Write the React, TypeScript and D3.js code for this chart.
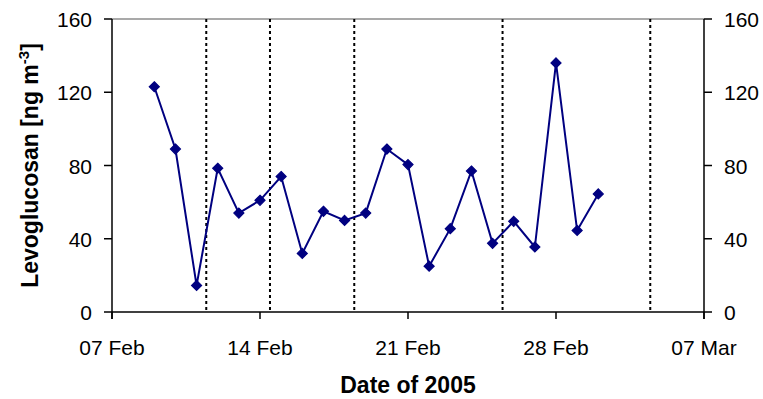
import React from 'react';
import * as d3 from 'd3';

// sampling days (daily) and levoglucosan values
const sampleDates = [
  '2005-02-09', '2005-02-10', '2005-02-11', '2005-02-12', '2005-02-13', '2005-02-14',
  '2005-02-15', '2005-02-16', '2005-02-17', '2005-02-18', '2005-02-19', '2005-02-20',
  '2005-02-21', '2005-02-22', '2005-02-23', '2005-02-24', '2005-02-25', '2005-02-26',
  '2005-02-27', '2005-02-28', '2005-03-01', '2005-03-02',
];
const levoglucosan = [
  123, 89, 14.5, 78.5, 54, 61, 74, 32, 55, 50, 54, 89,
  80.5, 25, 45.5, 77, 37.5, 49.5, 35.5, 136, 44.5, 64.5,
];
// dotted separators
const markerLines = [
  '2005-02-11T11:00:00Z', '2005-02-14T11:20:00Z', '2005-02-18T11:00:00Z',
  '2005-02-25T11:20:00Z', '2005-03-04T11:00:00Z',
];
const xTicks = ['2005-02-07', '2005-02-14', '2005-02-21', '2005-02-28', '2005-03-07'];
const yTicks = [0, 40, 80, 120, 160];

const W = 763;
const H = 399;
const margin = { top: 19, right: 59, bottom: 87, left: 112 };

const parseDay = (s: string) => new Date(s.length > 10 ? s : s + 'T00:00:00Z');
const fmt = d3.utcFormat('%d %b');

export default function App() {
  const x = d3.scaleUtc()
    .domain([parseDay('2005-02-07'), parseDay('2005-03-07')])
    .range([margin.left, W - margin.right]);
  const y = d3.scaleLinear().domain([0, 160]).range([H - margin.bottom, margin.top]);

  const pts = sampleDates.map((d, i) => ({ date: parseDay(d), value: levoglucosan[i] }));
  const line = d3.line<{ date: Date; value: number }>()
    .x(d => x(d.date))
    .y(d => y(d.value));

  const x0 = margin.left;
  const x1 = W - margin.right;
  const y0 = y(0);
  const y1 = y(160);
  const font = 'Liberation Sans, Arial, sans-serif';
  const diamond = d3.symbol(d3.symbolDiamond2, 64)() || '';

  return (
    <svg width={W} height={H} style={{ position: 'absolute', left: 0, top: 0, background: '#fff' }}
      fontFamily={font}>
      {/* top frame line */}
      <line x1={x0} x2={x1} y1={y1} y2={y1} stroke="#8c8c8c" strokeWidth={1.5} />

      {markerLines.map(s => (
        <line key={s} x1={x(parseDay(s))} x2={x(parseDay(s))} y1={y1} y2={y0}
          stroke="#000" strokeWidth={2} strokeDasharray="3,3" />
      ))}

      {/* left axis */}
      <line x1={x0} x2={x0} y1={y1} y2={y0 + 7} stroke="#000" strokeWidth={1.5} />
      {yTicks.map(t => (
        <g key={'l' + t}>
          <line x1={x0 - 8} x2={x0} y1={y(t)} y2={y(t)} stroke="#000" strokeWidth={1.5} />
          <text x={x0 - 20} y={y(t) + 8} textAnchor="end" fontSize={21}>{t}</text>
        </g>
      ))}

      {/* right axis */}
      <line x1={x1} x2={x1} y1={y1} y2={y0 + 7} stroke="#000" strokeWidth={1.5} />
      {yTicks.map(t => (
        <g key={'r' + t}>
          <line x1={x1} x2={x1 + 8} y1={y(t)} y2={y(t)} stroke="#000" strokeWidth={1.5} />
          <text x={x1 + 20} y={y(t) + 8} textAnchor="start" fontSize={21}>{t}</text>
        </g>
      ))}

      {/* bottom axis */}
      <line x1={x0} x2={x1} y1={y0} y2={y0} stroke="#000" strokeWidth={1.5} />
      {xTicks.map(s => (
        <g key={s}>
          <line x1={x(parseDay(s))} x2={x(parseDay(s))} y1={y0} y2={y0 + 7} stroke="#000" strokeWidth={1.5} />
          <text x={x(parseDay(s))} y={y0 + 43} textAnchor="middle" fontSize={21}>{fmt(parseDay(s))}</text>
        </g>
      ))}

      <path d={line(pts) || ''} fill="none" stroke="#000080" strokeWidth={2} />
      {pts.map((p, i) => (
        <path key={i} d={diamond}
          transform={`translate(${x(p.date)},${y(p.value)})`}
          fill="#000080" stroke="#000080" strokeWidth={1.2} strokeLinejoin="miter" />
      ))}

      <text x={(x0 + x1) / 2} y={393} textAnchor="middle" fontSize={23} fontWeight="bold">Date of 2005</text>
      <text transform={`translate(38,${(y0 + y1) / 2}) rotate(-90)`} textAnchor="middle"
        fontSize={23} fontWeight="bold">
        Levoglucosan [ng m<tspan dy={-9} fontSize={15}>-3</tspan><tspan dy={9}>]</tspan>
      </text>
    </svg>
  );
}
